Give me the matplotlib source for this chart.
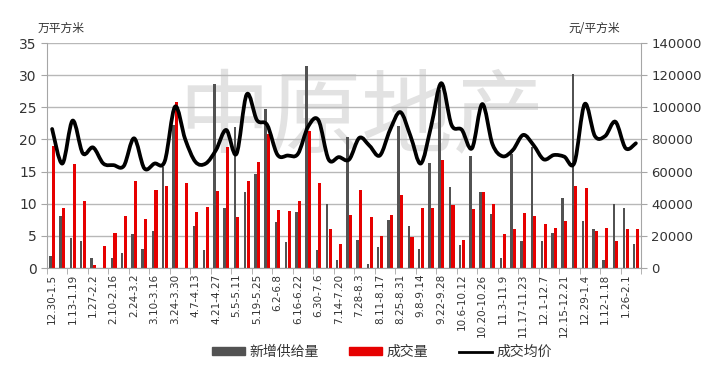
import numpy as np
import matplotlib
matplotlib.use("Agg")
from matplotlib import pyplot as plt
from matplotlib.path import Path
from matplotlib.patches import PathPatch
from matplotlib.lines import Line2D
from matplotlib.patches import Patch

plt.rcParams['font.family'] = ['DejaVu Sans', 'Noto Sans CJK SC']
CJK = ['Noto Sans CJK SC', 'DejaVu Sans']

# week labels (every second week is printed)
weeks = ["12.30-1.5", "1.6-1.12", "1.13-1.19", "1.20-1.26", "1.27-2.2", "2.3-2.9",
         "2.10-2.16", "2.17-2.23", "2.24-3.2", "3.3-3.9", "3.10-3.16", "3.17-3.23",
         "3.24-3.30", "3.31-4.6", "4.7-4.13", "4.14-4.20", "4.21-4.27", "4.28-5.4",
         "5.5-5.11", "5.12-5.18", "5.19-5.25", "5.26-6.1", "6.2-6.8", "6.9-6.15",
         "6.16-6.22", "6.23-6.29", "6.30-7.6", "7.7-7.13", "7.14-7.20", "7.21-7.27",
         "7.28-8.3", "8.4-8.10", "8.11-8.17", "8.18-8.24", "8.25-8.31", "9.1-9.7",
         "9.8-9.14", "9.15-9.21", "9.22-9.28", "9.29-10.5", "10.6-10.12", "10.13-10.19",
         "10.20-10.26", "10.27-11.2", "11.3-11.9", "11.10-11.16", "11.17-11.23", "11.24-11.30",
         "12.1-12.7", "12.8-12.14", "12.15-12.21", "12.22-12.28", "12.29-1.4", "1.5-1.11",
         "1.12-1.18", "1.19-1.25", "1.26-2.1", "2.2-2.8"]

# 新增供给量 (万平方米)
supply = [1.9, 8.1, 4.7, 4.2, 1.5, 0, 1.6, 2.4, 5.3, 3.0, 5.7, 15.7,
          22.3, 0, 6.6, 2.8, 28.7, 9.3, 21.9, 11.9, 14.7, 24.7, 7.1, 4.0,
          8.7, 31.4, 2.8, 10.0, 1.3, 20.4, 4.4, 0.7, 3.3, 7.4, 22.1, 6.5,
          3.0, 16.3, 27.7, 12.6, 3.6, 17.4, 11.8, 8.4, 1.6, 17.7, 4.2, 18.9,
          4.2, 5.5, 10.9, 30.2, 7.3, 6.0, 1.2, 10.0, 9.3, 3.7]

# 成交量 (万平方米)
deals = [19.0, 9.3, 16.2, 10.4, 0.4, 3.4, 5.5, 8.1, 13.6, 7.6, 12.1, 12.8,
         25.9, 13.2, 8.7, 9.5, 12.0, 18.8, 7.9, 13.5, 16.5, 20.8, 9.0, 8.9,
         10.4, 21.3, 13.3, 6.0, 3.8, 8.2, 12.2, 7.9, 5.0, 8.3, 11.4, 4.9,
         9.3, 9.4, 16.8, 9.8, 4.4, 9.2, 11.8, 9.9, 5.3, 6.1, 8.5, 8.1,
         6.9, 6.3, 7.3, 12.8, 12.5, 5.7, 6.3, 4.2, 6.1, 6.1]

# 成交均价 (元/平方米)
price = [86500, 65000, 91700, 71300, 75000, 65000, 64000, 63500, 80700, 62000, 65000, 66500,
         100400, 80000, 66000, 65000, 73400, 85900, 71000, 108000, 92000, 89000, 70500, 70000,
         71000, 88000, 92000, 67500, 69000, 67500, 81000, 76000, 70000, 86000, 97000, 82000,
         65000, 88000, 115000, 89000, 86000, 74500, 102000, 77000, 69500, 73500, 82800, 76500,
         67600, 70300, 69300, 65500, 102000, 82100, 82100, 91000, 74500, 77600]

GRAY = '#525252'
RED = '#e60000'
AXC = '#a6a6a6'

fig = plt.figure(figsize=(7.2, 3.71), dpi=100)
ax = fig.add_axes([47/720, 1-268/371, (641-47)/720, (268-43)/371])
x = np.arange(len(weeks))

# watermark
ax.text(0.53, 0.66, "中原地产", transform=ax.transAxes, ha='center', va='center',
        fontsize=66, color='#e2e2e2', family=CJK, zorder=0)

ax.bar(x - 0.16, supply, width=0.24, color=GRAY, zorder=2)
ax.bar(x + 0.14, deals, width=0.30, color=RED, zorder=2)

ax.set_ylim(0, 35)
ax.set_yticks(range(0, 36, 5))
ax.set_xlim(-0.5, len(weeks) - 0.5)
ax.grid(axis='y', color='#b8b8b8', lw=1, zorder=1)
ax.set_axisbelow(True)

ax.set_xticks(x[::2])
ax.set_xticklabels(weeks[::2], rotation=90, fontsize=7.5, color='#333333')
ax.set_xticks(np.arange(-0.5, len(weeks), 2), minor=True)
ax.tick_params(axis='x', which='major', length=0, pad=4)
ax.tick_params(axis='x', which='minor', length=4, color=AXC)
ax.tick_params(axis='y', length=4, color=AXC, labelsize=10, labelcolor='#333333')
for s in ['top', 'right']:
    ax.spines[s].set_visible(False)
ax.spines['left'].set_color(AXC)
ax.spines['bottom'].set_color(AXC)

ax2 = ax.twinx()
ax2.set_ylim(0, 140000)
ax2.set_yticks(range(0, 140001, 20000))
ax2.tick_params(axis='y', length=4, color=AXC, labelsize=9.5, labelcolor='#333333')
for s in ['top', 'left', 'bottom']:
    ax2.spines[s].set_visible(False)
ax2.spines['right'].set_color(AXC)

# smoothed price line (Bezier through the weekly points)
px = x.astype(float)
py = np.array(price, dtype=float)
n = len(px)
verts = [(px[0], py[0])]
codes = [Path.MOVETO]
for i in range(n - 1):
    i0 = max(i - 1, 0)
    i3 = min(i + 2, n - 1)
    c1 = (px[i] + (px[i + 1] - px[i0]) / 6, py[i] + (py[i + 1] - py[i0]) / 6)
    c2 = (px[i + 1] - (px[i3] - px[i]) / 6, py[i + 1] - (py[i3] - py[i]) / 6)
    verts += [c1, c2, (px[i + 1], py[i + 1])]
    codes += [Path.CURVE4] * 3
ax2.add_patch(PathPatch(Path(verts, codes), fill=False, edgecolor='black', lw=2.7,
                        capstyle='round', joinstyle='round', zorder=3))

fig.text(38/720, 1-28/371, "万平方米", family=CJK, fontsize=8.5, color='#333333',
         ha='left', va='center')
fig.text(620/720, 1-28/371, "元/平方米", family=CJK, fontsize=8.5, color='#333333',
         ha='right', va='center')

handles = [Patch(color=GRAY), Patch(color=RED), Line2D([], [], color='black', lw=2)]
leg = fig.legend(handles, ["新增供给量", "成交量", "成交均价"], loc='center',
                 bbox_to_anchor=(0.53, 1-352/371), ncol=3, frameon=False,
                 prop={'family': CJK, 'size': 10}, handlelength=2.4, handleheight=0.5,
                 columnspacing=2.2, handletextpad=0.3)
for t in leg.get_texts():
    t.set_color('#333333')

fig.savefig("out.png", dpi=100, facecolor='white')
